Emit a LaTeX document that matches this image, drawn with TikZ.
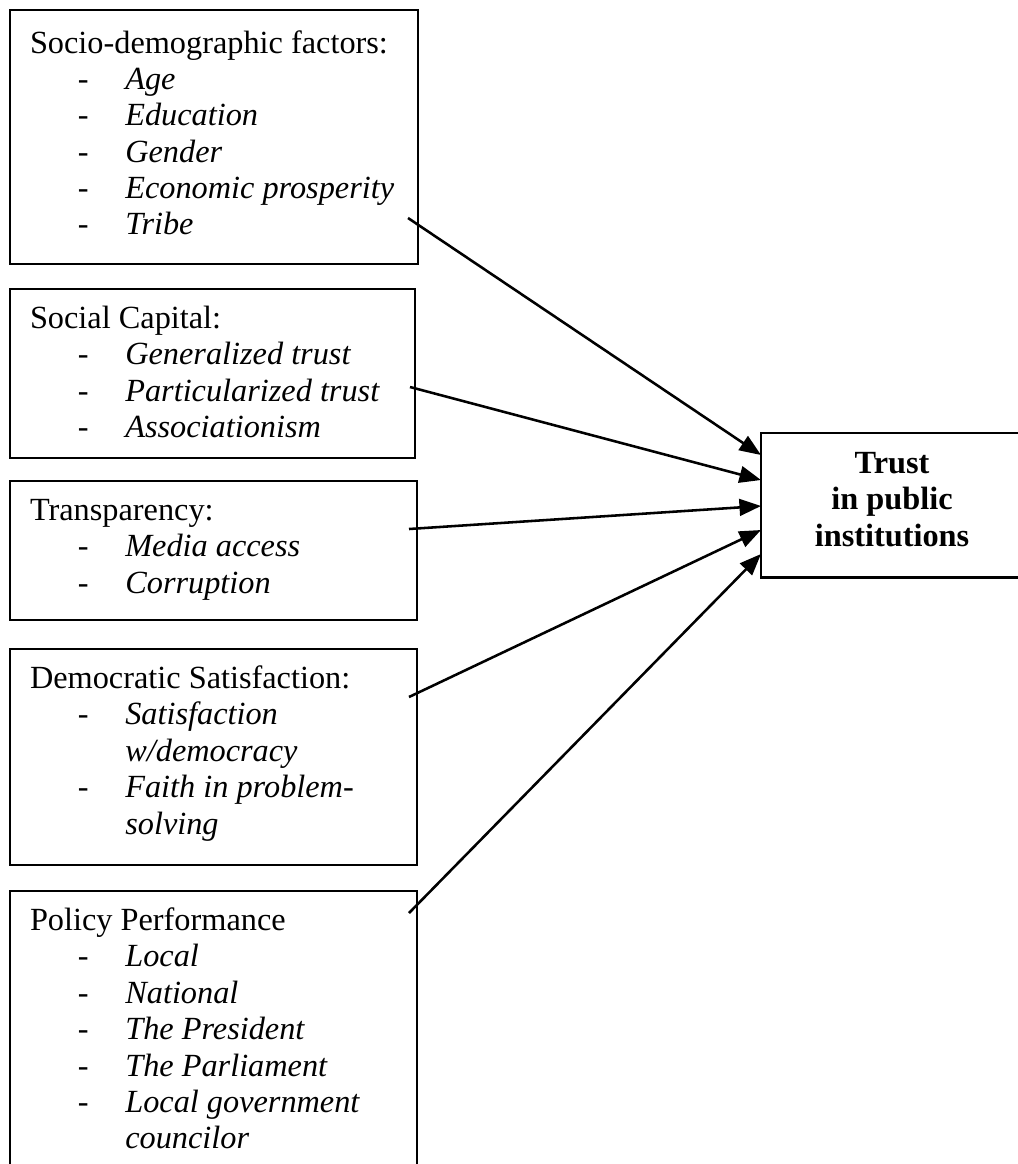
\documentclass[tikz,border=0pt]{standalone}
\usepackage{fontspec}
\setmainfont{Liberation Serif}
\usetikzlibrary{arrows.meta,calc}
\newcommand\hd[1]{\strut#1}
\newcommand\itm[1]{\strut\hspace*{17.8pt}\makebox[17.6pt][l]{-}\textit{#1}}
\newcommand\cnt[1]{\strut\hspace*{35.4pt}\textit{#1}}
\begin{document}
\begin{tikzpicture}[x=0.3715pt, y=-0.3715pt,
  box/.style={draw, line width=1.1pt, inner sep=0pt, outer sep=0pt, anchor=north west},
  txt/.style={anchor=north west, inner sep=0pt, align=left, font=\fontsize{12}{13.52}\selectfont},
  ttl/.style={anchor=north, inner sep=0pt, align=center, font=\fontsize{12}{13.52}\selectfont\bfseries},
  arr/.style={-{Triangle[length=8pt,width=6.2pt]}, line width=0.95pt}]
\useasboundingbox (0,0) rectangle (1018,1164);
\clip (0,0) rectangle (1018,1164);

% boxes
\node[box, minimum width=151.57pt, minimum height=94.36pt] (b1) at (10,10) {};
\node[box, minimum width=150.46pt, minimum height=62.78pt] (b2) at (10,289) {};
\node[box, minimum width=151.20pt, minimum height=51.64pt] (b3) at (10,481) {};
\node[box, minimum width=151.20pt, minimum height=80.24pt] (b4) at (10,649) {};
\node[box, minimum width=151.20pt, minimum height=107.36pt] (b5) at (10,891) {};
\node[box, minimum width=97.33pt, minimum height=53.50pt] (trust) at (761,433) {};

% texts
\node[txt] (t1) at ($(b1.north west)+(19.5,17)$) {\hd{Socio-demographic factors:}\\ \itm{Age}\\ \itm{Education}\\ \itm{Gender}\\ \itm{Economic prosperity}\\ \itm{Tribe}};
\node[txt] (t2) at ($(b2.north west)+(19.5,13.5)$) {\hd{Social Capital:}\\ \itm{Generalized trust}\\ \itm{Particularized trust}\\ \itm{Associationism}};
\node[txt] (t3) at ($(b3.north west)+(19.5,13.5)$) {\hd{Transparency:}\\ \itm{Media access}\\ \itm{Corruption}};
\node[txt] (t4) at ($(b4.north west)+(19.5,13.5)$) {\hd{Democratic Satisfaction:}\\ \itm{Satisfaction}\\ \cnt{w/democracy}\\ \itm{Faith in problem-}\\ \cnt{solving}};
\node[txt] (t5) at ($(b5.north west)+(19.5,13.5)$) {\hd{Policy Performance}\\ \itm{Local}\\ \itm{National}\\ \itm{The President}\\ \itm{The Parliament}\\ \itm{Local government}\\ \cnt{councilor}};
\node[ttl] (tt) at (892,447.5) {\strut Trust\\ \strut in public\\ \strut institutions};

% arrow starts
\coordinate (s1) at (408,218);
\coordinate (s2) at (410,387);
\coordinate (s3) at (409,529);
\coordinate (s4) at (409,697);
\coordinate (s5) at (409,913);

\draw[arr] (s1) -- ($(trust.north west)+(0,22)$);
\draw[arr] (s2) -- ($(trust.north west)+(0,47)$);
\draw[arr] (s3) -- ($(trust.north west)+(0,73)$);
\draw[arr] (s4) -- ($(trust.north west)+(0,97)$);
\draw[arr] (s5) -- ($(trust.north west)+(0,121)$);
\end{tikzpicture}
\end{document}
